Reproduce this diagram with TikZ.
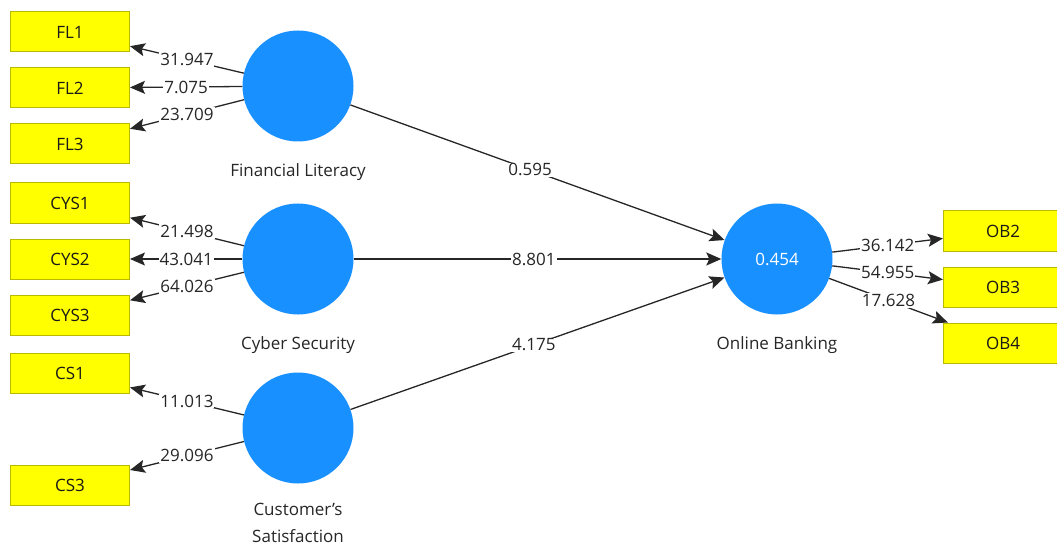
\documentclass[tikz,border=0pt]{standalone}
\usepackage{fontspec}
\setmainfont{Open Sans}
\usetikzlibrary{arrows.meta}
\definecolor{lvblue}{RGB}{24,144,255}
\definecolor{mvyellow}{RGB}{255,255,0}
\definecolor{mvborder}{RGB}{185,185,0}

\begin{document}
\begin{tikzpicture}[x=1pt, y=-1pt,
    font=\fontsize{17}{27}\selectfont,
    latent/.style={circle, fill=lvblue, minimum size=111pt, inner sep=0pt, text=white},
    item/.style={rectangle, draw=mvborder, fill=mvyellow, line width=1pt,
                 minimum width=119pt, minimum height=40pt, inner sep=0pt, text=black!90},
    load/.style={draw=black!85, line width=1.3pt, -{Stealth[length=15pt, width=13pt, inset=3pt]}},
    coef/.style={fill=white, inner sep=1pt, text=black!85},
    caption/.style={text=black!85, align=center}]
  \clip (0,0) rectangle (1057,548);

  % latent variables
  \node[latent] (FL) at (298,86) {};
  \node[latent] (CYS) at (298,259) {};
  \node[latent] (CS) at (298,428) {};
  \node[latent] (OB) at (777,259) {0.454};
  \node[caption] (FLname) at (298,172) {Financial Literacy};
  \node[caption] (CYSname) at (298,345) {Cyber Security};
  \node[caption] (CSname) at (298,523) {Customer's\\Satisfaction};
  \node[caption] (OBname) at (777,345) {Online Banking};

  % indicators
  \node[item] (FL1) at (70,32) {FL1};
  \node[item] (FL2) at (70,88) {FL2};
  \node[item] (FL3) at (70,144) {FL3};
  \node[item] (CYS1) at (70,203) {CYS1};
  \node[item] (CYS2) at (70,259) {CYS2};
  \node[item] (CYS3) at (70,315) {CYS3};
  \node[item] (CS1) at (70,373) {CS1};
  \node[item] (CS3) at (70,485) {CS3};
  \node[item] (OB2) at (1003,231) {OB2};
  \node[item] (OB3) at (1003,287) {OB3};
  \node[item] (OB4) at (1003,343) {OB4};

  % outer model
  \draw[load] (FL) -- node[coef] {31.947} (FL1);
  \draw[load] (FL) -- node[coef] {7.075} (FL2);
  \draw[load] (FL) -- node[coef] {23.709} (FL3);
  \draw[load] (CYS) -- node[coef] {21.498} (CYS1);
  \draw[load] (CYS) -- node[coef] {43.041} (CYS2);
  \draw[load] (CYS) -- node[coef] {64.026} (CYS3);
  \draw[load] (CS) -- node[coef] {11.013} (CS1);
  \draw[load] (CS) -- node[coef] {29.096} (CS3);
  \draw[load] (OB) -- node[coef] {36.142} (OB2);
  \draw[load] (OB) -- node[coef] {54.955} (OB3);
  \draw[load] (OB) -- node[coef] {17.628} (OB4);

  % inner model
  \draw[load] (FL) -- node[coef, pos=0.48] {0.595} (OB);
  \draw[load] (CYS) -- node[coef, pos=0.49] {8.801} (OB);
  \draw[load] (CS) -- node[coef, pos=0.49] {4.175} (OB);
\end{tikzpicture}
\end{document}
